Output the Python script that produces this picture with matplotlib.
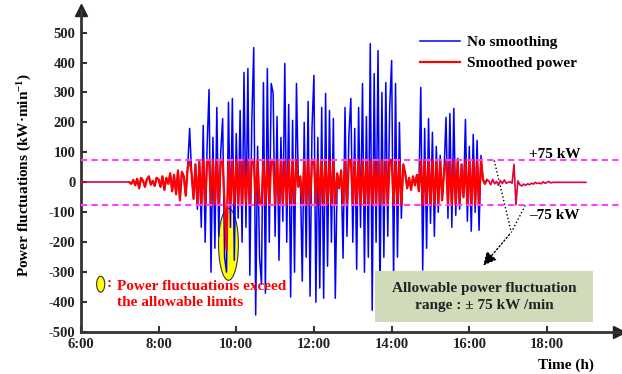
import numpy as np
import matplotlib
matplotlib.use("Agg")
import matplotlib.pyplot as plt
from matplotlib.patches import Ellipse, Rectangle

plt.rcParams['font.family'] = ['Liberation Serif', 'DejaVu Serif']
plt.rcParams['font.weight'] = 'bold'
plt.rcParams['axes.unicode_minus'] = False
plt.rcParams['mathtext.fontset'] = 'custom'
plt.rcParams['mathtext.rm'] = 'Liberation Serif:bold'
plt.rcParams['mathtext.it'] = 'Liberation Serif:bold'
plt.rcParams['mathtext.bf'] = 'Liberation Serif:bold'

# 3-minute samples from 7:15 to 16:27 (kW/min)
t_start = 7.25
t_step = 0.05
blue_7 = [0, -5, 8, -10, 12, -20, 15, 5, -15, 10, 20, -8, 5, -12, 15]
blue_8 = [10, -15, 20, -25, 15, -5, 30, -30, 25, -40, 40, -60, 35, 20, -45, 50, 180, 30, -55, 60]
blue_9 = [-90, 70, -150, 190, -200, 120, 310, -300, 150, -220, 250, -180, 100, 213, -250, -300, 267, -150, 280, -260]
blue_10 = [163, -120, 240, -200, 367, -150, 380, -310, 200, 450, -443, 120, -250, -340, 333, -370, 380, -200, 330, 297]
blue_11 = [-180, 220, -260, 150, -130, 397, -200, 260, -383, 207, -300, 330, -15, 20, -330, 200, -250, 270, -380, 180]
blue_12 = [357, -400, 150, -353, 250, -387, 297, -280, 240, -200, 213, -387, 30, -20, 40, -253, 250, -180, 160, 280]
blue_13 = [-200, 180, -290, 250, -150, 330, -300, 220, -250, 463, -427, 363, -200, 440, -380, 300, -250, 333, -180, 250]
blue_14 = [407, -330, 330, -250, 200, -120, 60, 30, -20, 15, -25, 20, -10, 25, -30, 317, -293, 180, -220, 213]
blue_15 = [-137, 167, -180, 120, -100, 90, -60, 40, 217, -120, 230, -150, 247, -110, 80, -90, 60, -50, 210, -130]
blue_16 = [120, -163, 160, -100, 140, -160, 90, 10, -5, 8]

red_7 = [0, -5, 8, -10, 12, -20, 15, 5, -15, 10, 20, -8, 5, -12, 15]
red_8 = [10, -15, 20, -25, 15, -5, 30, -30, 25, -40, 40, -60, 35, 20, -45, 50, 75, 30, -55, 60]
red_9 = [-75, 70, -75, 75, -75, 75, 75, -75, 75, -75, 75, -75, 75, 75, -75, -225, 75, -75, 75, -75]
red_10 = [75, -75, 75, -75, 75, -75, 75, -75, 75, 75, -75, 75, -75, -75, 75, -75, 75, -75, 75, 75]
red_11 = [-75, 75, -75, 75, -75, 75, -75, 75, -75, 75, -75, 75, -15, 20, -75, 75, -75, 75, -75, 75]
red_12 = [75, -75, 75, -75, 75, -75, 75, -75, 75, -75, 75, -75, 30, -20, 40, -75, 75, -75, 75, 75]
red_13 = [-75, 75, -75, 75, -75, 75, -75, 75, -75, 75, -75, 75, -75, 75, -75, 75, -75, 75, -75, 75]
red_14 = [75, -75, 75, -75, 75, -75, 60, 30, -20, 15, -25, 20, -10, 25, -30, 75, -75, 75, -75, 75]
red_15 = [-75, 75, -75, 75, -75, 75, -60, 40, 75, -75, 75, -75, 75, -75, 75, -75, 60, -50, 75, -75]
red_16 = [75, -75, 75, -75, 75, -75, 75, 10, -5, 8]

# smoothed output after 16:30, same 3-minute step
red_tail = [5, -8, 10, -5, 3, -10, 6, -4, 8, -3,
            0, 2, -3, 60, -75, 5, -8, -12, -6, -10,
            -5, -8, -3, -6, 0, -4, -2, -5, 2, -3,
            0, 3, -2, 0, 0, 0, 0, 0, 0, 0,
            0, 0, 0, 0, 0, 0, 0, 0, 0, 0, 0]
t_tail_start = 16.5
flat_t = [6.0, 7.25]
flat_v = [0, 0]

x_ticks = [6, 8, 10, 12, 14, 16, 18]
x_labels = ["6:00", "8:00", "10:00", "12:00", "14:00", "16:00", "18:00"]
y_ticks = [-500, -400, -300, -200, -100, 0, 100, 200, 300, 400, 500]
limit = 75

blue = np.array(blue_7 + blue_8 + blue_9 + blue_10 + blue_11 + blue_12 + blue_13 + blue_14 + blue_15 + blue_16)
red = np.array(red_7 + red_8 + red_9 + red_10 + red_11 + red_12 + red_13 + red_14 + red_15 + red_16)
t = t_start + t_step * np.arange(len(blue))
t_tail = t_tail_start + t_step * np.arange(len(red_tail))

fig = plt.figure(figsize=(6.22, 3.74), dpi=100)
ax = fig.add_axes([0.130, 0.112, 0.865, 0.861])

ax.add_patch(Ellipse((9.80, -207), 0.51, 240, facecolor='#ffff00', edgecolor='#333333', lw=0.8, zorder=1))
ax.plot(t, blue, color='#0000ff', lw=1.1, zorder=2, label='No smoothing')
ax.plot(flat_t, flat_v, color='#e0003a', lw=1.2, zorder=3)
ax.plot(t, red, color='#ff0000', lw=1.6, zorder=3, label='Smoothed power')
ax.plot(np.r_[t[-1], t_tail], np.r_[red[-1], red_tail], color='#e0003a', lw=1.2, zorder=3)

ax.axhline(limit, color='#ff40ff', lw=1.5, ls=(0, (3, 2)), zorder=4)
ax.axhline(-limit, color='#ff40ff', lw=1.5, ls=(0, (3, 2)), zorder=4)

ax.set_xlim(6, 19.85)
ax.set_ylim(-500, 575)
ax.set_xticks(x_ticks)
ax.set_xticklabels(x_labels)
ax.set_yticks(y_ticks)
ax.tick_params(direction='in', length=4, width=1.5, color='#333333', labelsize=10.5, pad=4)
for lab in ax.get_xticklabels() + ax.get_yticklabels():
    lab.set_fontweight('bold')
    lab.set_color('#222222')
for s in ['top', 'right']:
    ax.spines[s].set_visible(False)
for s in ['left', 'bottom']:
    ax.spines[s].set_linewidth(2)
    ax.spines[s].set_color('#333333')
ax.plot(1, 0, '>', color='#222222', ms=9, transform=ax.transAxes, clip_on=False)
ax.plot(0, 1, '^', color='#222222', ms=9, transform=ax.transAxes, clip_on=False)

fig.text(0.040, 0.532, "Power fluctuations (kW\u00b7min$^{-1}$)", rotation=90, ha='center', va='center',
         fontsize=11, fontweight='bold')
fig.text(0.910, 0.024, "Time (h)", ha='center', va='center', fontsize=11, fontweight='bold')

leg = ax.legend(loc='upper left', bbox_to_anchor=(0.605, 0.963), frameon=False, fontsize=11,
                handlelength=2.6, handletextpad=0.5, labelspacing=0.45)
for txt in leg.get_texts():
    txt.set_fontweight('bold')

ax.text(18.19, 92, "+75 kW", ha='center', va='center', fontsize=11, fontweight='bold')
ax.text(18.19, -112, "\u201375 kW", ha='center', va='center', fontsize=11, fontweight='bold')

ax.plot([16.64, 17.08], [73, -167], color='black', lw=1, ls=':')
ax.plot([17.44, 17.08], [-77, -167], color='black', lw=1, ls=':')
ax.annotate("", xy=(16.31, -285), xytext=(17.08, -167),
            arrowprops=dict(arrowstyle='-|>,head_length=0.8,head_width=0.4', color='black', lw=1, ls=':'))

ax.add_patch(Rectangle((13.58, -467), 5.61, 170, facecolor='#d0dbba', edgecolor='none', zorder=5))
ax.text(16.39, -382, "Allowable power fluctuation\nrange : \u00b1 75 kW /min", ha='center', va='center',
        fontsize=11, fontweight='bold', color='#222222', linespacing=1.35, zorder=6)

ax.add_patch(Ellipse((6.51, -340), 0.21, 53, facecolor='#ffff00', edgecolor='#333333', lw=0.8, clip_on=False))
ax.text(6.72, -337, ":", color='red', ha='center', va='center', fontsize=11, fontweight='bold')
ax.text(6.93, -373, "Power fluctuations exceed\nthe allowable limits", color='red', ha='left', va='center',
        fontsize=11, fontweight='bold', linespacing=1.3)

fig.savefig("out.png", dpi=100)
